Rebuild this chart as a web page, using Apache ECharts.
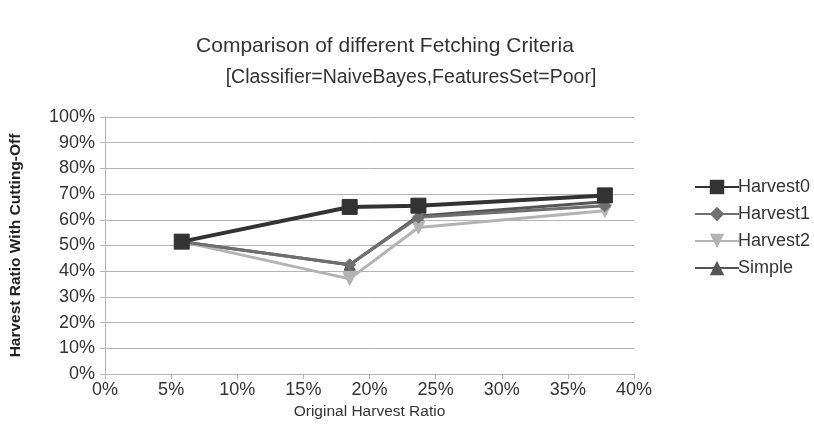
<!DOCTYPE html>
<html><head><meta charset="utf-8">
<script src="https://cdn.jsdelivr.net/npm/echarts@6/dist/echarts.min.js"></script>
<style>html,body{margin:0;padding:0;background:#fff}#c{width:814px;height:447px}</style>
</head><body><div id="c"></div>
<script>
const xValues = [5.8, 18.5, 23.7, 37.8];
const harvest0 = [51.5, 65, 65.5, 69.5];
const harvest1 = [51.5, 42.5, 61, 65.5];
const harvest2 = [51.5, 37, 57, 63.5];
const simple = [51.5, 42.5, 61.5, 67];
const seriesNames = ['Harvest0', 'Harvest1', 'Harvest2', 'Simple'];
const seriesData = [harvest0, harvest1, harvest2, simple];
const colors = ['#333333', '#6f6f6f', '#b3b3b3', '#555555'];
const symbols = ['rect', 'diamond', 'path://M0,0 L10,0 L5,10 Z', 'triangle'];
const symbolSizes = [15, 12, 13, 11];

const chart = echarts.init(document.getElementById('c'));
const font = 'Liberation Sans, Arial, sans-serif';
chart.setOption({
  backgroundColor: '#fff',
  animation: false,
  textStyle: {fontFamily: font},
  title: [
    {text: 'Comparison of different Fetching Criteria', left: 380, top: 31, textAlign: 'center',
     textStyle: {fontSize: 21, fontWeight: 'normal', color: '#333', fontFamily: font}},
    {text: '[Classifier=NaiveBayes,FeaturesSet=Poor]', left: 406, top: 63, textAlign: 'center',
     textStyle: {fontSize: 19.5, fontWeight: 'normal', color: '#333', fontFamily: font}}
  ],
  legend: {
    orient: 'vertical', left: 689, top: 173, itemGap: 9, itemWidth: 44, itemHeight: 18,
    data: seriesNames,
    textStyle: {fontSize: 18, color: '#333', padding: [0,0,0,-6]}
  },
  grid: {left: 105, right: 180, top: 117, bottom: 73},
  xAxis: {
    type: 'value', min: 0, max: 40, interval: 5,
    name: 'Original Harvest Ratio', nameLocation: 'middle', nameGap: 28,
    nameTextStyle: {fontSize: 15.5, color: '#333'},
    axisLine: {lineStyle: {color: '#b3b3b3'}},
    axisTick: {show: true, length: 5, lineStyle: {color: '#b3b3b3'}},
    axisLabel: {formatter: v => v + '%', fontSize: 18, color: '#333', margin: 7},
    splitLine: {show: false}
  },
  yAxis: {
    type: 'value', min: 0, max: 100, interval: 10,
    name: 'Harvest Ratio With Cutting-Off', nameLocation: 'middle', nameGap: 81,
    nameTextStyle: {fontSize: 15.5, fontWeight: 'bold', color: '#222'},
    axisLine: {show: true, lineStyle: {color: '#b3b3b3'}},
    axisTick: {show: true, length: 5, lineStyle: {color: '#b3b3b3'}},
    axisLabel: {formatter: v => v + '%', fontSize: 18, color: '#333', margin: 10},
    splitLine: {lineStyle: {color: '#b3b3b3', width: 1}}
  },
  series: seriesNames.map((n, i) => ({
    name: n, type: 'line', z: 10 - i,
    data: xValues.map((x, j) => [x, seriesData[i][j]]),
    symbol: symbols[i], symbolSize: symbolSizes[i], showSymbol: true,
    lineStyle: {color: colors[i], width: i === 0 ? 4 : 3},
    itemStyle: {color: colors[i], borderColor: colors[i]}
  }))
});
</script></body></html>
